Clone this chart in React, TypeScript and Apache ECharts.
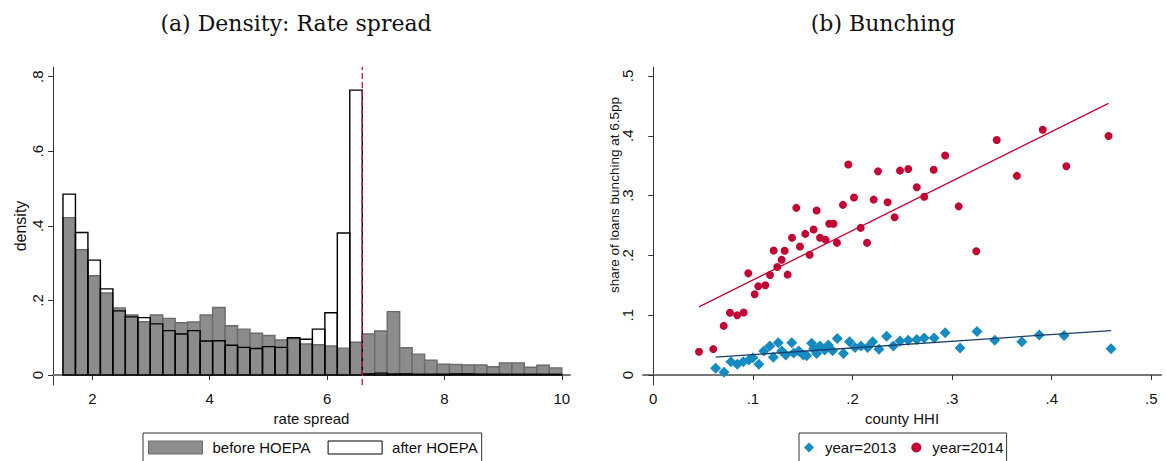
import React, { useEffect, useRef } from "react";
import * as echarts from "echarts";

// ---------- Panel (a): histogram of rate spread ----------
const binStart = 1.5;
const binWidth = 0.2125;
const beforeHOEPA = [
  0.422, 0.336, 0.266, 0.22, 0.18, 0.161, 0.143, 0.161, 0.152, 0.14,
  0.142, 0.161, 0.181, 0.132, 0.123, 0.112, 0.106, 0.094, 0.098, 0.083,
  0.081, 0.078, 0.072, 0.088, 0.11, 0.118, 0.17, 0.073, 0.056, 0.04,
  0.029, 0.028, 0.027, 0.027, 0.022, 0.032, 0.032, 0.021, 0.026, 0.019,
];
const afterHOEPA = [
  0.485, 0.382, 0.308, 0.231, 0.172, 0.156, 0.154, 0.137, 0.119, 0.11,
  0.119, 0.091, 0.092, 0.08, 0.074, 0.071, 0.076, 0.074, 0.1, 0.096,
  0.123, 0.167, 0.381, 0.764, 0.003, 0.005, 0.003, 0.003, 0.002, 0.002,
  0.002, 0.003, 0.003, 0.002, 0.002, 0.002, 0.002, 0.002, 0.002, 0.002,
];
const cutoff = 6.6;
const histXTicks = [2, 4, 6, 8, 10];
const histYTicks = [0, 0.2, 0.4, 0.6, 0.8];

// ---------- Panel (b): bunching vs county HHI ----------
const hhi2013 = [
  0.0626, 0.071, 0.078, 0.0843, 0.0904, 0.096, 0.1, 0.106, 0.111, 0.117,
  0.1205, 0.1255, 0.129, 0.133, 0.139, 0.141, 0.146, 0.1506, 0.154, 0.159,
  0.161, 0.164, 0.1674, 0.172, 0.1757, 0.18, 0.1847, 0.191, 0.197, 0.2025,
  0.2085, 0.2152, 0.2203, 0.2266, 0.2343, 0.241, 0.2477, 0.256, 0.2645, 0.272,
  0.282, 0.293, 0.308, 0.325, 0.3428, 0.37, 0.3875, 0.4124, 0.4595,
];
const share2013 = [
  0.0112, 0.0045, 0.022, 0.0178, 0.022, 0.025, 0.029, 0.0178, 0.04, 0.0483,
  0.0295, 0.054, 0.04, 0.0334, 0.054, 0.037, 0.04, 0.0334, 0.032, 0.053,
  0.044, 0.036, 0.0483, 0.0417, 0.05, 0.0405, 0.061, 0.036, 0.0555, 0.046,
  0.0483, 0.046, 0.0555, 0.043, 0.065, 0.0483, 0.057, 0.058, 0.0595, 0.062,
  0.062, 0.0705, 0.045, 0.0728, 0.058, 0.0555, 0.067, 0.066, 0.044,
];
const hhi2014 = [
  0.0459, 0.0602, 0.0707, 0.077, 0.0843, 0.0908, 0.0954, 0.1018, 0.1054, 0.1125,
  0.1172, 0.1209, 0.1245, 0.1289, 0.1319, 0.1349, 0.1393, 0.1436, 0.1473, 0.1526,
  0.157, 0.161, 0.164, 0.1674, 0.1731, 0.1767, 0.181, 0.1844, 0.1904, 0.1958,
  0.2015, 0.2082, 0.2146, 0.2213, 0.2256, 0.2353, 0.2423, 0.2477, 0.256, 0.2645,
  0.272, 0.2815, 0.293, 0.3066, 0.3243, 0.3448, 0.365, 0.391, 0.4147, 0.457,
];
const share2014 = [
  0.0388, 0.0433, 0.0822, 0.104, 0.1, 0.1045, 0.17, 0.135, 0.1483, 0.15,
  0.1672, 0.2083, 0.1805, 0.1928, 0.2078, 0.1678, 0.2295, 0.2795, 0.215, 0.236,
  0.201, 0.2433, 0.275, 0.2295, 0.226, 0.2528, 0.2528, 0.221, 0.2845, 0.352,
  0.2967, 0.246, 0.221, 0.2933, 0.3405, 0.2888, 0.2638, 0.3417, 0.3445, 0.314,
  0.298, 0.3433, 0.367, 0.282, 0.207, 0.393, 0.333, 0.41, 0.349, 0.3995,
];
// linear fits: [intercept, slope]
const fit2013 = [0.0229, 0.112];
const fit2014 = [0.0759, 0.828];
const hhiXTicks = [0, 0.1, 0.2, 0.3, 0.4, 0.5];
const hhiYTicks = [0, 0.1, 0.2, 0.3, 0.4, 0.5];

const GRAY_FILL = "#8c8c8c";
const GRAY_EDGE = "#6b6b6b";
const RED = "#c10534";
const BLUE = "#158bbf";
const NAVY = "#1a3e6b";
const SANS = "'Liberation Sans', Arial, Helvetica, sans-serif";
const SERIF = "'DejaVu Serif', serif";

const fmt = (v: number) => (v === 0 ? "0" : String(v).replace(/^0\./, "."));

function fitLine(xs: number[], coef: number[]) {
  const lo = Math.min(...xs);
  const hi = Math.max(...xs);
  return [
    [lo, coef[0] + coef[1] * lo],
    [hi, coef[0] + coef[1] * hi],
  ];
}

function histData(vals: number[]) {
  return vals.map((h, i) => [binStart + i * binWidth, binStart + (i + 1) * binWidth, h]);
}

const H_YMIN = -0.0268;
const H_YMAX = 0.826;

export default function App() {
  const ref = useRef<HTMLDivElement>(null);
  useEffect(() => {
    if (!ref.current) return;
    const chart = echarts.init(ref.current, undefined, { renderer: "svg" });

    const axisCommon = {
      axisLine: { show: true, lineStyle: { color: "#333", width: 1 } },
      axisTick: { show: true, length: 5, lineStyle: { color: "#333", width: 1 } },
      splitLine: { show: false },
      nameTextStyle: { fontFamily: SANS, fontSize: 15, color: "#111" },
    };
    const xLine = { show: true, lineStyle: { color: "#777", width: 2 } };

    const makeRect = (fill: string, stroke: string) => (params: any, api: any) => {
      const x0 = api.value(0);
      const x1 = api.value(1);
      const h = api.value(2);
      const p0 = api.coord([x0, 0]);
      const p1 = api.coord([x1, h]);
      return {
        type: "rect",
        shape: { x: p0[0], y: p1[1], width: p1[0] - p0[0], height: p0[1] - p1[1] },
        style: { fill, stroke, lineWidth: 1.4 },
      };
    };

    const titleStyle = { fontFamily: SERIF, fontSize: 22, fontWeight: "normal", color: "#111" };

    chart.setOption({
      animation: false,
      backgroundColor: "#fff",
      title: [
        { text: "(a) Density: Rate spread", left: 291, top: 7, textAlign: "center", textStyle: titleStyle },
        { text: "(b) Bunching", left: 878, top: 7, textAlign: "center", textStyle: titleStyle },
      ],
      graphic: [
        {
          type: "text",
          x: 614,
          y: 195,
          rotation: Math.PI / 2,
          style: {
            text: "share of loans bunching at 6.5pp",
            fontFamily: SANS,
            fontSize: 13.5,
            fill: "#111",
            align: "center",
            verticalAlign: "middle",
          },
        },
      ],
      legend: [
        {
          left: 143,
          top: 433,
          orient: "horizontal",
          padding: [7, 4, 12, 5],
          itemGap: 17,
          itemWidth: 54,
          itemHeight: 13,
          borderColor: "#333",
          borderWidth: 1,
          textStyle: { fontFamily: SANS, fontSize: 15, color: "#111", padding: [0, 0, 0, 5] },
          data: [
            { name: "before HOEPA", icon: "rect", itemStyle: { color: GRAY_FILL, borderColor: GRAY_EDGE, borderWidth: 1 } },
            { name: "after HOEPA", icon: "rect", itemStyle: { color: "#fff", borderColor: "#000", borderWidth: 1 } },
          ],
        },
        {
          left: 799,
          top: 433,
          orient: "horizontal",
          padding: [7, 3, 12, 5],
          itemGap: 15,
          itemWidth: 10,
          itemHeight: 10,
          borderColor: "#333",
          borderWidth: 1,
          textStyle: { fontFamily: SANS, fontSize: 15, color: "#111", padding: [0, 0, 0, 6] },
          data: [
            { name: "year=2013", icon: "diamond", itemStyle: { color: BLUE } },
            { name: "year=2014", icon: "circle", itemStyle: { color: RED } },
          ],
        },
      ],
      grid: [
        { left: 53, top: 67, width: 517, height: 318 },
        { left: 643, top: 67, width: 518, height: 318 },
      ],
      xAxis: [
        {
          ...axisCommon,
          gridIndex: 0,
          type: "value",
          min: 1.33,
          max: 10.14,
          axisLine: xLine,
          name: "rate spread",
          nameLocation: "middle",
          nameGap: 21,
          axisTick: { ...axisCommon.axisTick, customValues: histXTicks },
          axisLabel: { customValues: histXTicks, fontFamily: SANS, fontSize: 15, color: "#111", margin: 6 },
        },
        {
          ...axisCommon,
          gridIndex: 1,
          type: "value",
          min: -0.0103,
          max: 0.5097,
          axisLine: xLine,
          name: "county HHI",
          nameLocation: "middle",
          nameGap: 21,
          axisTick: { ...axisCommon.axisTick, customValues: hhiXTicks },
          axisLabel: { customValues: hhiXTicks, formatter: fmt, fontFamily: SANS, fontSize: 15, color: "#111", margin: 6 },
        },
      ],
      yAxis: [
        {
          ...axisCommon,
          gridIndex: 0,
          type: "value",
          min: H_YMIN,
          max: H_YMAX,
          name: "density",
          nameLocation: "middle",
          nameGap: 25,
          nameTextStyle: { fontFamily: SANS, fontSize: 16, color: "#111" },
          axisTick: { ...axisCommon.axisTick, customValues: histYTicks },
          axisLabel: { customValues: histYTicks, formatter: fmt, rotate: 90, fontFamily: SANS, fontSize: 15, color: "#111", margin: 8 },
        },
        {
          ...axisCommon,
          gridIndex: 1,
          type: "value",
          min: -0.0167,
          max: 0.515,
          axisTick: { ...axisCommon.axisTick, customValues: hhiYTicks },
          axisLabel: { customValues: hhiYTicks, formatter: fmt, rotate: 90, fontFamily: SANS, fontSize: 15, color: "#111", margin: 8 },
        },
      ],
      series: [
        {
          name: "before HOEPA",
          type: "custom",
          xAxisIndex: 0,
          yAxisIndex: 0,
          itemStyle: { color: GRAY_FILL },
          renderItem: makeRect(GRAY_FILL, GRAY_EDGE),
          encode: { x: [0, 1], y: 2 },
          data: histData(beforeHOEPA),
          z: 2,
        },
        {
          name: "after HOEPA",
          type: "custom",
          xAxisIndex: 0,
          yAxisIndex: 0,
          itemStyle: { color: "#fff" },
          renderItem: makeRect("none", "#000"),
          encode: { x: [0, 1], y: 2 },
          data: histData(afterHOEPA),
          z: 3,
        },
        {
          name: "cutoff",
          type: "line",
          xAxisIndex: 0,
          yAxisIndex: 0,
          symbol: "none",
          lineStyle: { color: "#c0143c", width: 1.3, type: [6, 3] },
          data: [
            [cutoff, H_YMIN],
            [cutoff, H_YMAX],
          ],
          z: 4,
        },
        {
          name: "year=2013",
          type: "scatter",
          xAxisIndex: 1,
          yAxisIndex: 1,
          symbol: "diamond",
          symbolSize: 11,
          itemStyle: { color: BLUE, opacity: 1 },
          data: hhi2013.map((x, i) => [x, share2013[i]]),
          z: 2,
        },
        {
          name: "year=2014",
          type: "scatter",
          xAxisIndex: 1,
          yAxisIndex: 1,
          symbol: "circle",
          symbolSize: 8,
          itemStyle: { color: RED, opacity: 1 },
          data: hhi2014.map((x, i) => [x, share2014[i]]),
          z: 2,
        },
        {
          name: "fit 2013",
          type: "line",
          xAxisIndex: 1,
          yAxisIndex: 1,
          symbol: "none",
          lineStyle: { color: NAVY, width: 1.3 },
          data: fitLine(hhi2013, fit2013),
          z: 3,
        },
        {
          name: "fit 2014",
          type: "line",
          xAxisIndex: 1,
          yAxisIndex: 1,
          symbol: "none",
          lineStyle: { color: RED, width: 1.3 },
          data: fitLine(hhi2014, fit2014),
          z: 3,
        },
      ],
    });
    return () => chart.dispose();
  }, []);

  return (
    <div
      ref={ref}
      style={{ position: "absolute", left: 0, top: 0, width: 1166, height: 461, background: "#fff" }}
    />
  );
}
